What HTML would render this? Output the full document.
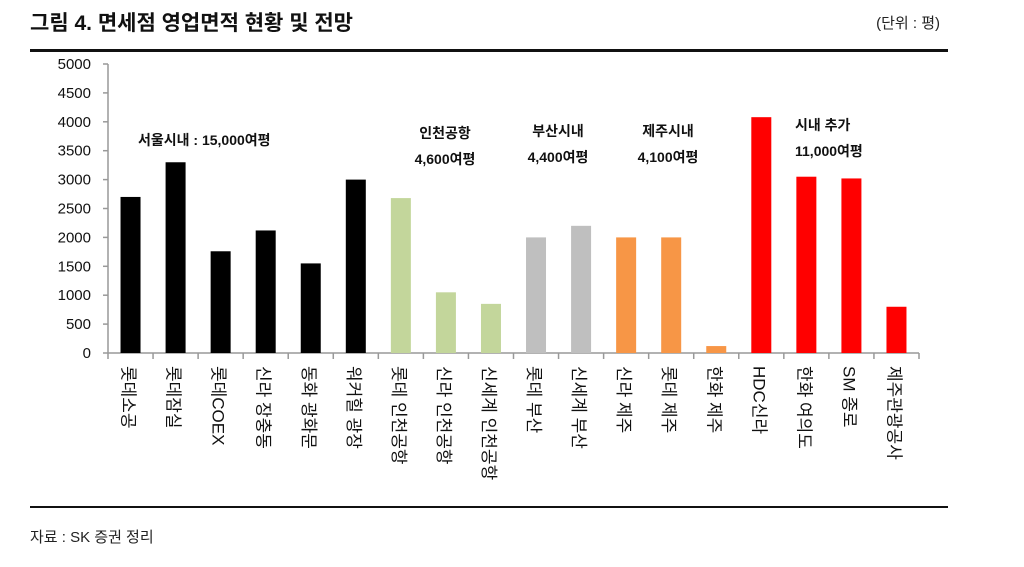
<!DOCTYPE html>
<html><head><meta charset="utf-8"><style>
body{margin:0;width:1024px;height:562px;background:#fff;overflow:hidden;font-family:"Liberation Sans","Noto Sans CJK KR",sans-serif;}
</style></head><body>
<svg width="1024" height="562" xmlns="http://www.w3.org/2000/svg" font-family="Liberation Sans, Noto Sans CJK KR, sans-serif">
<text x="30" y="30" font-size="21" font-weight="bold" fill="#111">그림 4. 면세점 영업면적 현황 및 전망</text>
<text x="940" y="28" font-size="15" text-anchor="end" fill="#222">(단위 : 평)</text>
<rect x="30" y="49" width="918" height="3" fill="#111"/>
<rect x="30" y="506" width="918" height="2" fill="#111"/>
<text x="30" y="542" font-size="15" fill="#222">자료 : SK 증권 정리</text>
<g id="chart"></g>
<g font-size="14" font-weight="bold" fill="#111">
<text x="138" y="145">서울시내 : 15,000여평</text>
<text x="445" y="138" text-anchor="middle">인천공항</text>
<text x="445" y="164" text-anchor="middle">4,600여평</text>
<text x="558" y="136" text-anchor="middle">부산시내</text>
<text x="558" y="162" text-anchor="middle">4,400여평</text>
<text x="668" y="136" text-anchor="middle">제주시내</text>
<text x="668" y="162" text-anchor="middle">4,100여평</text>
<text x="795" y="130">시내 추가</text>
<text x="795" y="156">11,000여평</text>
</g>
</svg>
<script>
const categories=["롯데소공","롯데잠실","롯데COEX","신라 장충동","동화 광화문","워커힐 광장","롯데 인천공항","신라 인천공항","신세계 인천공항","롯데 부산","신세계 부산","신라 제주","롯데 제주","한화 제주","HDC신라","한화 여의도","SM 종로","제주관광공사"];
const values=[2700,3300,1760,2120,1550,3000,2680,1050,850,2000,2200,2000,2000,120,4080,3050,3020,800];
const groups=[0,0,0,0,0,0,1,1,1,2,2,3,3,3,4,4,4,4];
const groupColors=["#000000","#c3d69b","#bfbfbf","#f79646","#ff0000"];
const yTicks=[0,500,1000,1500,2000,2500,3000,3500,4000,4500,5000];
const NS="http://www.w3.org/2000/svg";
const g=document.getElementById('chart');
const x0=108,x1=919,y0=353,y1=64,yMax=5000;
const step=(x1-x0)/categories.length;
const Y=v=>y0-(v/yMax)*(y0-y1);
const X=i=>x0+step*(i+0.5);
function mk(t,a){const e=document.createElementNS(NS,t);for(const k in a)e.setAttribute(k,a[k]);g.appendChild(e);return e;}
let e=mk('line',{x1:x0,y1:y1,x2:x0,y2:y0,stroke:'#999','stroke-width':1.5});


e=mk('line',{x1:x0,y1:y0,x2:x1,y2:y0,stroke:'#999','stroke-width':1.5});


yTicks.forEach(t=>{
  let l=mk('line',{x1:x0-5,y1:Y(t),x2:x0,y2:Y(t),stroke:'#999','stroke-width':1.5});
  
  
  let tx=mk('text',{x:x0-17,y:Y(t)+5,'font-size':15,'text-anchor':'end',fill:'#111'});
  tx.textContent=t;
  
  
});
for(let i=0;i<=categories.length;i++){
  let l=mk('line',{x1:x0+step*i,y1:y0,x2:x0+step*i,y2:y0+6,stroke:'#999','stroke-width':1.5});
  
  
}
categories.forEach((c,i)=>{
  let r=mk('rect',{x:X(i)-10,y:Y(values[i]),width:20,height:y0-Y(values[i]),fill:groupColors[groups[i]]});
  
  
  let tx=mk('text',{x:0,y:0,'font-size':17,fill:'#111',transform:`translate(${X(i)-8},366) rotate(90)`});
  tx.textContent=c;
  
  
});
</script>
</body></html>
